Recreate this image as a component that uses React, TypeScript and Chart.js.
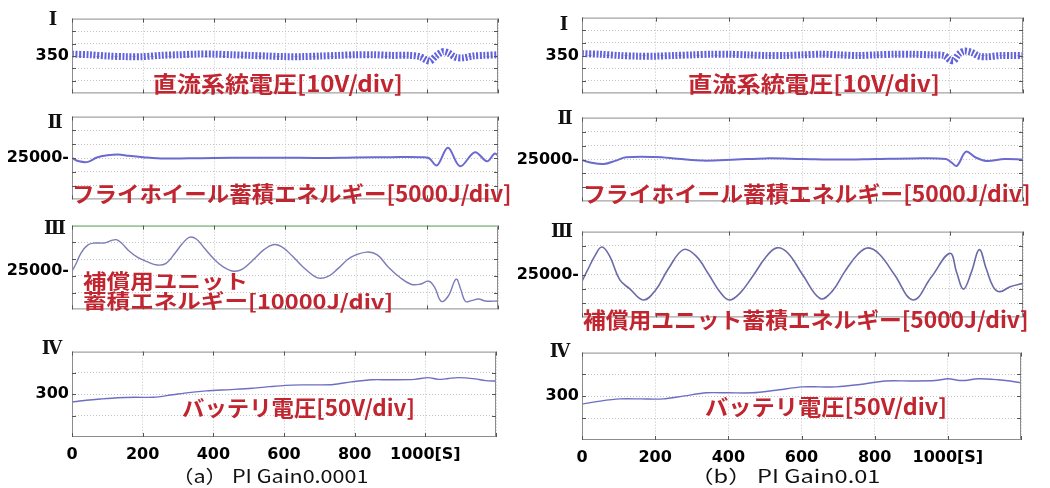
import React, { useEffect, useLayoutEffect, useRef, useState } from 'react';
import { Chart, registerables } from 'chart.js';
Chart.register(...registerables);

// ---------- data ----------
const X_TICKS = [0, 200, 400, 600, 800, 1000, 1200];
const X_TICK_LABELS = ['0', '200', '400', '600', '800', '1000[S]', ''];

// (a) PI Gain 0.0001
const tA1 = [0, 50, 100, 150, 200, 250, 300, 350, 400, 450, 500, 550, 600, 650, 700, 750, 800, 850, 900, 950, 980, 1000, 1010, 1025, 1045, 1060, 1080, 1100, 1130, 1160, 1200];
const vA1 = [351.5, 351, 350, 349.5, 349.5, 350.5, 351, 351.5, 351.5, 351, 350.5, 350, 349.5, 349.5, 350, 350.5, 351, 351, 350.5, 350.5, 349.5, 346.5, 346, 350, 353.5, 352.5, 349, 348.5, 350, 350.5, 351];

const tA2 = [0, 20, 45, 70, 100, 130, 160, 200, 260, 330, 400, 500, 600, 700, 800, 900, 980, 1005, 1028, 1059, 1093, 1135, 1169, 1190, 1200];
const vA2 = [25000, 23800, 23600, 25200, 26000, 26300, 25800, 25300, 24800, 24900, 25000, 25100, 25100, 25000, 25200, 25300, 25300, 25000, 22300, 28700, 22000, 27100, 23800, 26600, 26000];

const tA3 = [0, 12, 25, 45, 65, 90, 110, 125, 140, 160, 185, 211, 240, 265, 290, 310, 330, 350, 375, 400, 425, 454, 480, 510, 540, 566, 590, 620, 650, 690, 720, 750, 785, 830, 860, 890, 924, 955, 980, 1005, 1022, 1040, 1060, 1082, 1095, 1108, 1125, 1145, 1165, 1200];
const vA3 = [24800, 29500, 35500, 40500, 41600, 41600, 43000, 43600, 41500, 37000, 33000, 30500, 28500, 29500, 35500, 41000, 45000, 44000, 38000, 32000, 27500, 24800, 26000, 31500, 37500, 40600, 39500, 34000, 27500, 21000, 21500, 26500, 33000, 36200, 34500, 27500, 21000, 17000, 17000, 18800, 15000, 6800, 10000, 20000, 14000, 6800, 7200, 8200, 7000, 7000];

const tA4 = [0, 40, 80, 130, 180, 230, 285, 330, 380, 450, 510, 560, 605, 650, 700, 740, 790, 848, 900, 970, 1008, 1037, 1065, 1093, 1141, 1170, 1200];
const vA4 = [282, 286, 289, 292, 293, 293, 299, 304, 308, 311, 314, 318, 321, 322, 322, 323, 329, 334, 334, 335, 339, 335, 337, 339, 336, 332, 331];

// (b) PI Gain 0.01
const tB1 = [0, 50, 100, 150, 200, 250, 300, 350, 400, 450, 500, 550, 600, 650, 700, 750, 800, 850, 900, 950, 985, 1001, 1012, 1025, 1040, 1060, 1080, 1100, 1140, 1170, 1200];
const vB1 = [351.5, 351, 350, 349.5, 349.5, 350, 350.5, 351, 351, 350.5, 350, 350, 350.5, 351, 350.5, 350, 350.5, 351, 351, 350.5, 350, 346.5, 346, 351, 353.5, 352.5, 349.5, 349, 350, 350, 350];

const tB2 = [0, 20, 60, 90, 120, 200, 260, 330, 420, 500, 600, 700, 800, 900, 990, 1005, 1020, 1045, 1070, 1100, 1150, 1200];
const vB2 = [24800, 24000, 23400, 24500, 25800, 25900, 25300, 24600, 25000, 25400, 25200, 25000, 25200, 25400, 25200, 24000, 22700, 27800, 25800, 24500, 25200, 25000];

const tB3 = [0, 15, 35, 54, 75, 103, 130, 167, 200, 235, 276, 310, 345, 375, 401, 430, 465, 500, 530, 560, 600, 648, 680, 715, 750, 779, 810, 850, 901, 950, 1001, 1020, 1038, 1060, 1081, 1100, 1119, 1137, 1165, 1200];
const vB3 = [22600, 26500, 31500, 34600, 31500, 23100, 20000, 16100, 19500, 27000, 33700, 31500, 25000, 19000, 16100, 18500, 24500, 31000, 34300, 32500, 25000, 16600, 19000, 26000, 32000, 34300, 32000, 25000, 16100, 24000, 32400, 25500, 19900, 26000, 33700, 27000, 20700, 19000, 20700, 21900];

const tB4 = [0, 50, 103, 160, 221, 280, 340, 400, 466, 530, 602, 650, 694, 760, 829, 900, 965, 1001, 1038, 1083, 1137, 1170, 1200];
const vB4 = [282, 289, 294, 294, 294, 301, 308, 308, 308, 314, 321.5, 321.5, 321.5, 327, 335, 335, 336, 340, 336, 340, 338, 335, 331];

// y-axis grid tick values
const Y1_GRID = [330, 340, 350, 360, 370];
const Y2_GRID = [15000, 20000, 25000, 30000, 35000];
const YA3_GRID = [12000, 22000, 32000, 42000];
const Y4_GRID = [250, 300, 350];

const GRID = '#c4c4c4';
const FRAME = '#8c8c8c';
const RED = '#c02530';
const TICK_FONT = { family: 'DejaVu Sans', weight: 'bold' as const, size: 16 };

const framePlugin = {
  id: 'frame',
  afterDraw(chart: any, _a: any, opts: any) {
    const { ctx, chartArea: a, scales } = chart;
    ctx.save();
    ctx.lineWidth = 1;
    ctx.strokeStyle = FRAME;
    ctx.strokeRect(a.left + 0.5, a.top + 0.5, a.right - a.left - 1, a.bottom - a.top - 1);
    if (opts && opts.topColor) {
      ctx.strokeStyle = opts.topColor;
      ctx.beginPath();
      ctx.moveTo(a.left, a.top + 0.5);
      ctx.lineTo(a.right, a.top + 0.5);
      ctx.stroke();
    }
    ctx.strokeStyle = '#555';
    scales.x.ticks.forEach((t: any) => {
      const px = Math.round(scales.x.getPixelForValue(t.value)) + 0.5;
      ctx.beginPath();
      ctx.moveTo(px, a.top); ctx.lineTo(px, a.top + 4);
      ctx.moveTo(px, a.bottom); ctx.lineTo(px, a.bottom - 4);
      ctx.stroke();
    });
    scales.y.ticks.forEach((t: any) => {
      if (!(opts.grid || []).includes(t.value)) return;
      const py = Math.round(scales.y.getPixelForValue(t.value)) + 0.5;
      ctx.beginPath();
      ctx.moveTo(a.left, py); ctx.lineTo(a.left + 4, py);
      ctx.moveTo(a.right, py); ctx.lineTo(a.right - 4, py);
      ctx.stroke();
    });
    ctx.restore();
  },
};

type PanelProps = {
  x0: number; y0: number; x1: number; y1: number;
  t: number[]; v: number[];
  yMin: number; yMax: number; yGrid: number[]; yLabelValue: number; yLabel: string;
  showX: boolean; color: string; width: number; dash?: number[]; tension: number; topColor?: string;
};

function Panel(p: PanelProps) {
  const ref = useRef<HTMLCanvasElement>(null);
  const YW = 72, PT = 4, PR = 6;
  const PB = p.showX ? 34 : 4;
  const cw = YW + (p.x1 - p.x0) + PR;
  const ch = PT + (p.y1 - p.y0) + PB;
  useEffect(() => {
    if (!ref.current) return;
    const yTicks = Array.from(new Set([...p.yGrid, p.yLabelValue])).sort((a, b) => a - b);
    const chart = new Chart(ref.current, {
      type: 'line',
      data: {
        datasets: [{
          data: p.t.map((t, i) => ({ x: t, y: p.v[i] })),
          borderColor: p.color,
          borderWidth: p.width,
          borderDash: p.dash || [],
          pointRadius: 0,
          tension: p.tension,
          fill: false,
        }],
      },
      options: {
        animation: false,
        responsive: false,
        maintainAspectRatio: false,
        layout: { padding: { left: 0, top: PT, right: PR, bottom: p.showX ? 0 : PB } },
        plugins: {
          legend: { display: false },
          tooltip: { enabled: false },
          frame: { topColor: p.topColor, grid: p.yGrid },
        } as any,
        scales: {
          x: {
            type: 'linear', min: 0, max: 1200,
            afterBuildTicks: (s: any) => { s.ticks = X_TICKS.map((value) => ({ value })); },
            afterFit: (s: any) => { s.height = p.showX ? PB : 0; },
            grid: { color: GRID, drawTicks: false },
            border: { display: false, dash: [1, 2] },
            ticks: {
              display: p.showX, padding: 8, font: TICK_FONT, color: '#000',
              maxRotation: 0, autoSkip: false,
              callback: (_v: any, i: number) => X_TICK_LABELS[i],
            },
          },
          y: {
            type: 'linear', min: p.yMin, max: p.yMax,
            afterBuildTicks: (s: any) => { s.ticks = yTicks.map((value) => ({ value })); },
            afterFit: (s: any) => { s.width = YW; },
            grid: {
              color: (c: any) => (c.tick && p.yGrid.includes(c.tick.value) ? GRID : 'transparent'),
              drawTicks: false,
            },
            border: { display: false, dash: [1, 2] },
            ticks: {
              padding: 3, font: TICK_FONT, color: '#000', autoSkip: false,
              callback: (v: any) => (v === p.yLabelValue ? p.yLabel : ''),
            },
          },
        },
      } as any,
      plugins: [framePlugin],
    });
    return () => chart.destroy();
  }, []);
  return (
    <canvas
      ref={ref}
      width={cw}
      height={ch}
      style={{ position: 'absolute', left: p.x0 - YW, top: p.y0 - PT, width: cw, height: ch }}
    />
  );
}

type FitProps = { x: number; cy: number; w: number; text: string; size: number; color: string; weight: number; family: string };
function FitText(p: FitProps) {
  const ref = useRef<HTMLDivElement>(null);
  const [sx, setSx] = useState(1);
  useLayoutEffect(() => {
    if (ref.current) {
      const nat = ref.current.offsetWidth;
      if (nat > 0) setSx(p.w / nat);
    }
  }, []);
  return (
    <div
      ref={ref}
      style={{
        position: 'absolute', left: p.x, top: p.cy - p.size * 0.6, fontSize: p.size,
        lineHeight: `${p.size * 1.2}px`, whiteSpace: 'nowrap', transformOrigin: '0 50%',
        transform: `scaleX(${sx})`, color: p.color, fontWeight: p.weight, fontFamily: p.family,
      }}
    >
      {p.text}
    </div>
  );
}

const JP = '"Noto Sans CJK JP", sans-serif';
const redLabels = [
  { x: 153, cy: 82, w: 250, text: '直流系統電圧[10V/div]', size: 22 },
  { x: 688, cy: 82, w: 252, text: '直流系統電圧[10V/div]', size: 22 },
  { x: 72, cy: 192, w: 440, text: 'フライホイール蓄積エネルギー[5000J/div]', size: 22 },
  { x: 583, cy: 192, w: 448, text: 'フライホイール蓄積エネルギー[5000J/div]', size: 22 },
  { x: 83, cy: 281, w: 165, text: '補償用ユニット', size: 20 },
  { x: 83, cy: 301, w: 310, text: '蓄積エネルギー[10000J/div]', size: 20 },
  { x: 583, cy: 318, w: 446, text: '補償用ユニット蓄積エネルギー[5000J/div]', size: 22 },
  { x: 182, cy: 406, w: 233, text: 'バッテリ電圧[50V/div]', size: 22 },
  { x: 705, cy: 405, w: 242, text: 'バッテリ電圧[50V/div]', size: 22 },
];

const romans = [
  { cx: 53, cy: 19, t: 'Ⅰ' }, { cx: 55, cy: 122, t: 'Ⅱ' }, { cx: 55, cy: 228, t: 'Ⅲ' }, { cx: 52, cy: 348, t: 'Ⅳ' },
  { cx: 564, cy: 24, t: 'Ⅰ' }, { cx: 565, cy: 118, t: 'Ⅱ' }, { cx: 562, cy: 231, t: 'Ⅲ' }, { cx: 560, cy: 351, t: 'Ⅳ' },
];

export default function App() {
  const L = { x0: 72, x1: 498 };
  const R = { x0: 582, x1: 1023 };
  return (
    <div style={{ position: 'fixed', left: 0, top: 0, width: 1050, height: 488, background: '#fff', overflow: 'hidden' }}>
      {/* left column */}
      <Panel {...L} y0={10} y1={102} t={tA1} v={vA1} yMin={320} yMax={380} yGrid={Y1_GRID} yLabelValue={350} yLabel="350"
        showX={false} color="#6262dc" width={7} dash={[2, 1.6]} tension={0.3} />
      <Panel {...L} y0={108} y1={208} t={tA2} v={vA2} yMin={10000} yMax={40000} yGrid={Y2_GRID} yLabelValue={25000} yLabel="25000-"
        showX={false} color="#6a6ad0" width={2} tension={0.35} />
      <Panel {...L} y0={217} y1={318} t={tA3} v={vA3} yMin={2000} yMax={52000} yGrid={YA3_GRID} yLabelValue={25000} yLabel="25000-"
        showX={false} color="#7c7cb8" width={1.4} tension={0.4} topColor="#86d486" />
      <Panel {...L} y0={343} y1={437} t={tA4} v={vA4} yMin={200} yMax={400} yGrid={Y4_GRID} yLabelValue={300} yLabel="300"
        showX={true} color="#6e6ec4" width={1.4} tension={0.3} />
      {/* right column */}
      <Panel {...R} y0={9} y1={102} t={tB1} v={vB1} yMin={320} yMax={380} yGrid={Y1_GRID} yLabelValue={350} yLabel="350"
        showX={false} color="#6262dc" width={7} dash={[2, 1.6]} tension={0.3} />
      <Panel {...R} y0={109} y1={210} t={tB2} v={vB2} yMin={10000} yMax={40000} yGrid={Y2_GRID} yLabelValue={25000} yLabel="25000-"
        showX={false} color="#6a6ad0" width={2} tension={0.35} />
      <Panel {...R} y0={223} y1={326} t={tB3} v={vB3} yMin={10000} yMax={40000} yGrid={Y2_GRID} yLabelValue={25000} yLabel="25000-"
        showX={false} color="#6a6aa8" width={1.6} tension={0.4} />
      <Panel {...R} y0={344} y1={440} t={tB4} v={vB4} yMin={200} yMax={400} yGrid={Y4_GRID} yLabelValue={300} yLabel="300"
        showX={true} color="#6e6ec4" width={1.4} tension={0.3} />

      {romans.map((r, i) => (
        <div key={'r' + i} style={{
          position: 'absolute', left: r.cx - 20, width: 40, top: r.cy - 11, height: 22, lineHeight: '22px',
          textAlign: 'center', fontFamily: '"DejaVu Serif", serif', fontWeight: 700, fontSize: 18, color: '#111',
        }}>{r.t}</div>
      ))}

      {redLabels.map((l, i) => (
        <FitText key={'l' + i} x={l.x} cy={l.cy} w={l.w} text={l.text} size={l.size} color={RED} weight={700} family={JP} />
      ))}

      <FitText x={172} cy={476} w={196} text="（a） PI Gain0.0001" size={18} color="#111" weight={400} family={JP} />
      <FitText x={690} cy={476} w={190} text="（b） PI Gain0.01" size={18} color="#111" weight={400} family={JP} />
    </div>
  );
}
